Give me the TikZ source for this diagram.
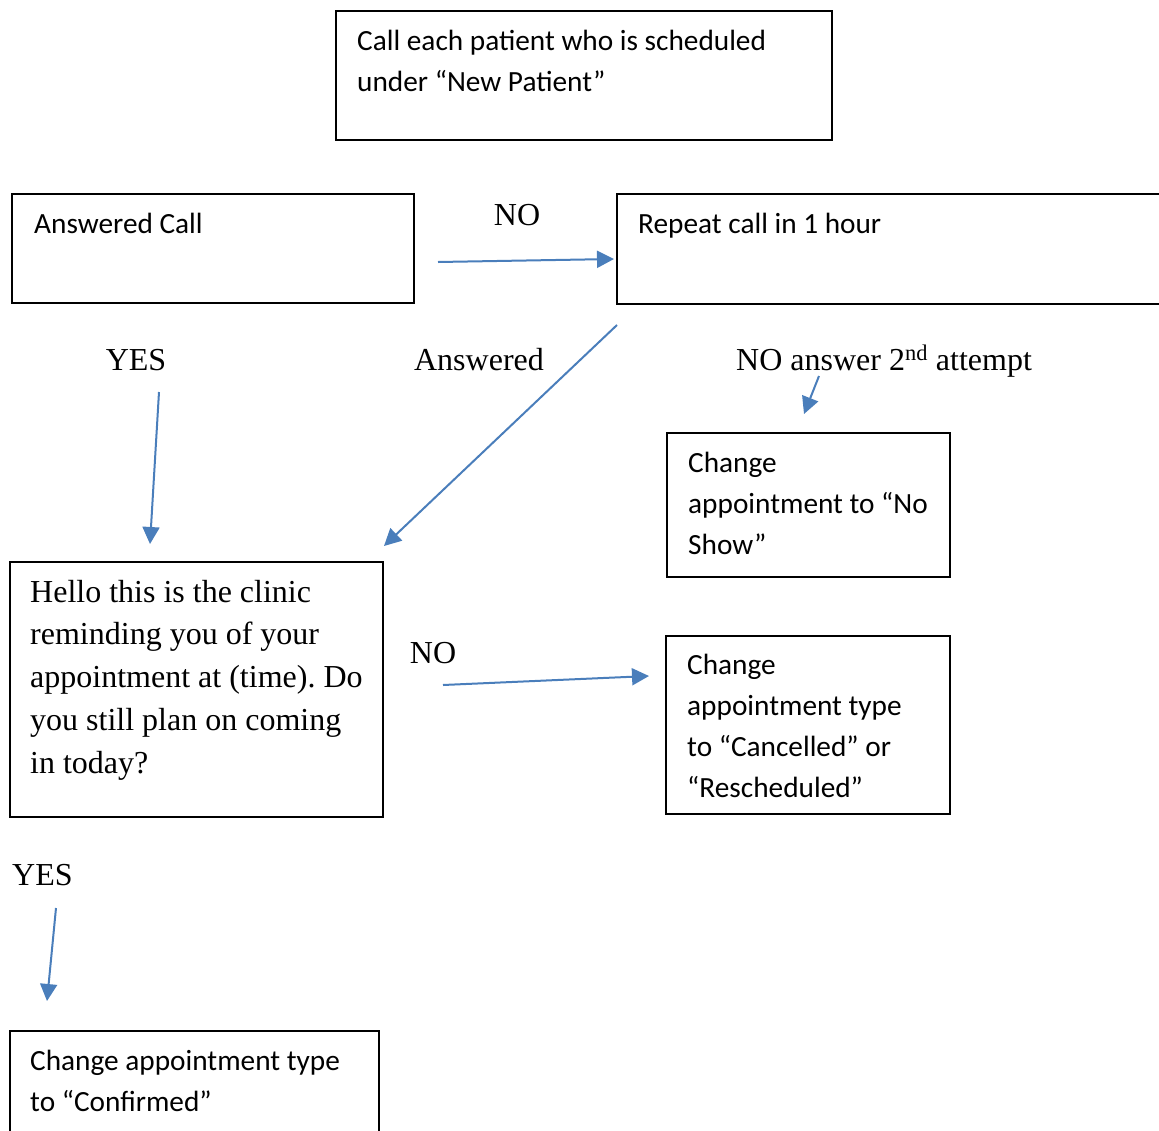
\documentclass[tikz,border=0pt]{standalone}
\usepackage{fontspec}
\setmainfont{Liberation Serif}
\newfontfamily\calfont{Carlito}
\usetikzlibrary{arrows.meta}
\definecolor{arrowblue}{RGB}{74,126,187}
\frenchspacing
\begin{document}
\begin{tikzpicture}[x=1pt,y=-1pt,
  box/.style={draw=black,line width=1.8pt,anchor=north west,inner sep=0pt,outer sep=0pt},
  ctext/.style={anchor=base west,inner sep=0pt,align=left,font=\calfont\fontsize{29.3}{41}\selectfont},
  ttext/.style={anchor=base west,inner sep=0pt,align=left,font=\fontsize{32}{42.75}\selectfont},
  lbl/.style={anchor=base,inner sep=0pt,font=\fontsize{32}{40}\selectfont},
  arr/.style={draw=arrowblue,line width=2pt,-{Triangle[length=17pt,width=17pt]}}]
\useasboundingbox (0,0) rectangle (1159,1130);
\clip (0,0) rectangle (1159,1130);
% boxes (text nodes anchored at the baseline of their last line)
\node[box,minimum width=496pt,minimum height=129pt] (top) at (336,11) {};
\node[ctext] (toptxt) at (357,91) {Call each patient who is scheduled\\under “New Patient”};
\node[box,minimum width=402pt,minimum height=109pt] (ans) at (12,194) {};
\node[ctext] (anstxt) at (34,233) {Answered Call};
\node[box,minimum width=600pt,minimum height=110pt] (rep) at (617,194) {};
\node[ctext] (reptxt) at (638,233) {Repeat call in 1 hour};
\node[box,minimum width=283pt,minimum height=144pt] (noshow) at (667,433) {};
\node[ctext] (noshowtxt) at (688,554) {Change\\appointment to “No\\Show”};
\node[box,minimum width=373pt,minimum height=255pt] (hello) at (10,562) {};
\node[ttext] (hellotxt) at (30,773) {Hello this is the clinic\\reminding you of your\\appointment at (time). Do\\you still plan on coming\\in today?};
\node[box,minimum width=284pt,minimum height=178pt] (canc) at (666,636) {};
\node[ctext] (canctxt) at (687,797) {Change\\appointment type\\to “Cancelled” or\\“Rescheduled”};
\node[box,minimum width=369pt,minimum height=150pt] (conf) at (10,1031) {};
\node[ctext] (conftxt) at (30,1111) {Change appointment type\\to “Confirmed”};
% labels
\node[lbl] (no1) at (517,225) {NO};
\node[lbl] (yes1) at (136,370) {YES};
\node[lbl] (answered) at (479,370) {Answered};
\node[lbl,anchor=base west] (no2nd) at (736,370) {NO answer 2\textsuperscript{nd} attempt};
\node[lbl] (no2) at (433,663) {NO};
\node[lbl,anchor=base west] (yes2) at (12,885) {YES};
% arrow end points
\coordinate (a1s) at (438,262); \coordinate (a1e) at (614,259);
\coordinate (a2s) at (159,392); \coordinate (a2e) at (150,544);
\coordinate (a3s) at (617,325); \coordinate (a3e) at (384,546);
\coordinate (a4s) at (819,376); \coordinate (a4e) at (804,414);
\coordinate (a5s) at (443,685); \coordinate (a5e) at (649,676);
\coordinate (a6s) at (56,908);  \coordinate (a6e) at (47,1001);
\draw[arr] (a1s) -- (a1e);
\draw[arr] (a2s) -- (a2e);
\draw[arr] (a3s) -- (a3e);
\draw[arr] (a4s) -- (a4e);
\draw[arr] (a5s) -- (a5e);
\draw[arr] (a6s) -- (a6e);
\end{tikzpicture}
\end{document}
